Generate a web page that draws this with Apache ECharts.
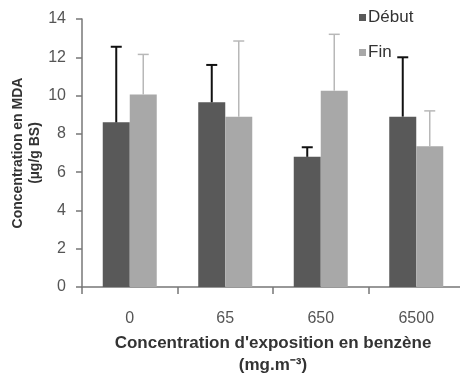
<!DOCTYPE html>
<html><head><meta charset="utf-8">
<script src="https://cdn.jsdelivr.net/npm/echarts@6/dist/echarts.min.js"></script>
<style>html,body{margin:0;padding:0;background:#fff}#c{width:460px;height:373px}</style>
</head><body><div id="c"></div>
<script>
const categories = ['0', '65', '650', '6500'];
const debutValues = [8.6, 9.65, 6.8, 8.9];
const debutUpper = [12.55, 11.6, 7.3, 12.0];
const finValues = [10.05, 8.9, 10.25, 7.35];
const finUpper = [12.15, 12.85, 13.2, 9.2];
const yTicks = [0, 2, 4, 6, 8, 10, 12, 14];

const BAR_W = 27;
function errRender(offset, color, lw) {
  return function (params, api) {
    const x = api.value(0), hi = api.value(2), v = api.value(1);
    const p0 = api.coord([x, v]);
    const p1 = api.coord([x, hi]);
    const cx = p0[0] + offset;
    const half = 5.5;
    return {
      type: 'group',
      children: [
        { type: 'line', shape: { x1: cx, y1: p0[1], x2: cx, y2: p1[1] }, style: { stroke: color, lineWidth: lw } },
        { type: 'line', shape: { x1: cx - half, y1: p1[1], x2: cx + half, y2: p1[1] }, style: { stroke: color, lineWidth: lw } }
      ]
    };
  };
}
const chart = echarts.init(document.getElementById('c'));
const font = 'Liberation Sans, Arial, sans-serif';
chart.setOption({
  animation: false,
  backgroundColor: '#fff',
  textStyle: { fontFamily: font },
  grid: { left: 82, top: 19, right: -4, bottom: 86, outerBoundsMode: 'none', containLabel: false },
  legend: {
    orient: 'vertical', left: 354, top: 4, itemWidth: 7, itemHeight: 7, itemGap: 18,
    icon: 'rect',
    textStyle: { fontSize: 17, color: '#333', fontFamily: font, padding: [0, 0, 0, -3] },
    data: ['Début', 'Fin']
  },
  xAxis: {
    type: 'category', data: categories,
    axisLine: { lineStyle: { color: '#777', width: 1.5 } },
    axisTick: { show: true, length: 7, lineStyle: { color: '#777', width: 1.5 } },
    axisLabel: { fontSize: 16, color: '#555', margin: 24, fontFamily: font },
    name: "Concentration d'exposition en benzène\n(mg.m⁻³)",
    nameLocation: 'middle', nameGap: 38,
    nameTextStyle: { fontSize: 17, color: '#333', fontWeight: 'bold', lineHeight: 22, fontFamily: font }
  },
  yAxis: {
    type: 'value', min: 0, max: 14, interval: 2,
    axisLine: { show: true, lineStyle: { color: '#777', width: 1.5 } },
    axisTick: { show: true, length: 6, lineStyle: { color: '#777', width: 1.5 } },
    splitLine: { show: false },
    axisLabel: { fontSize: 16, color: '#555', margin: 16, fontFamily: font,
      formatter: v => yTicks.includes(v) ? String(v) : '' },
    name: 'Concentration en MDA\n(µg/g BS)',
    nameLocation: 'middle', nameGap: 38, nameMoveOverlap: false,
    nameTextStyle: { fontSize: 14, color: '#333', fontWeight: 'bold', lineHeight: 17, fontFamily: font }
  },
  series: [
    { name: 'Début', type: 'bar', data: debutValues, barWidth: BAR_W, barGap: '0%', itemStyle: { color: '#595959' } },
    { name: 'Fin', type: 'bar', data: finValues, barWidth: BAR_W, barGap: '0%', itemStyle: { color: '#a8a8a8' } },
    { type: 'custom', name: 'errD', data: debutValues.map((v, i) => [i, v, debutUpper[i]]),
      renderItem: errRender(-BAR_W / 2, '#111', 2), z: 5 },
    { type: 'custom', name: 'errF', data: finValues.map((v, i) => [i, v, finUpper[i]]),
      renderItem: errRender(BAR_W / 2, '#b8b8b8', 1.5), z: 5 }
  ]
});
</script></body></html>
